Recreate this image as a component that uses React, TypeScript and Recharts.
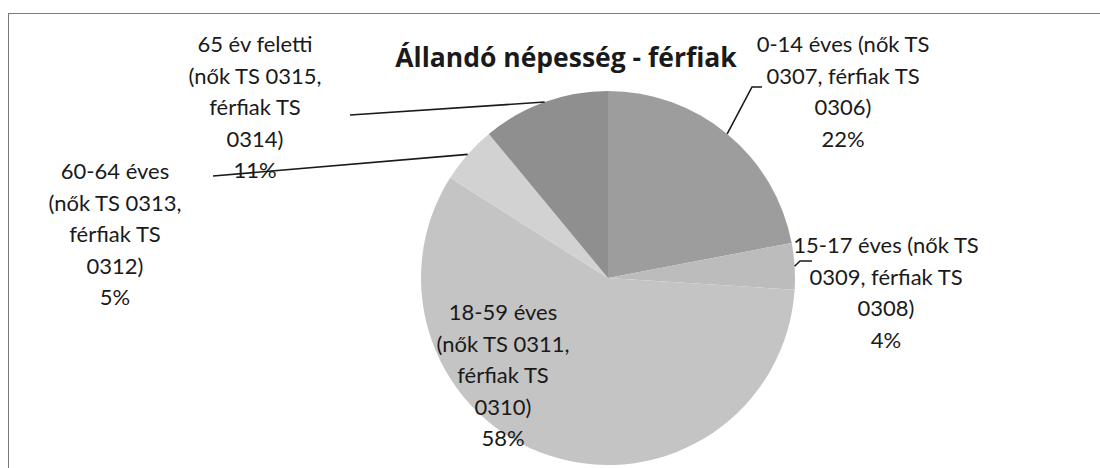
import React from 'react'
import { PieChart, Pie, Cell } from 'recharts'

const categories = [
  ['0-14 éves (nők TS', '0307, férfiak TS', '0306)'],
  ['15-17 éves (nők TS', '0309, férfiak TS', '0308)'],
  ['18-59 éves', '(nők TS 0311,', 'férfiak TS', '0310)'],
  ['60-64 éves', '(nők TS 0313,', 'férfiak TS', '0312)'],
  ['65 év feletti', '(nők TS 0315,', 'férfiak TS', '0314)'],
]
const percents = [22, 4, 58, 5, 11]

const colors = ['#9d9d9d', '#bcbcbc', '#c4c4c4', '#d2d2d2', '#8f8f8f']

// where each label block sits (centre x, first baseline y) and where its leader line ends
const labelPlace = [
  { x: 843, y: 52, lineTo: [752, 87], hook: 762 },
  { x: 886, y: 253, lineTo: [800, 261], hook: 812 },
  { x: 503, y: 320, lineTo: null, hook: 0 },
  { x: 115, y: 179, lineTo: [213, 176], hook: 213 },
  { x: 255, y: 52, lineTo: [350, 115], hook: 350 },
]

const data = categories.map((lines, i) => ({ name: lines.join(' '), lines, value: percents[i] }))

const RADIAN = Math.PI / 180
const LINE_H = 31.5

const renderLabel = (props: any) => {
  const { cx, cy, midAngle, outerRadius, index, payload } = props
  const place = labelPlace[index]
  const lines: string[] = [...payload.lines, `${percents[index]}%`]
  const sx = cx + outerRadius * Math.cos(-midAngle * RADIAN)
  const sy = cy + outerRadius * Math.sin(-midAngle * RADIAN)
  return (
    <g key={`lbl-${index}`}>
      {place.lineTo && (
        <polyline
          points={`${sx},${sy} ${place.lineTo[0]},${place.lineTo[1]} ${place.hook},${place.lineTo[1]}`}
          fill="none"
          stroke="#1a1a1a"
          strokeWidth={1.6}
        />
      )}
      <text x={place.x} y={place.y} textAnchor="middle" fill="#1a1a1a" fontSize={22} fontFamily="Lato, sans-serif">
        {lines.map((t, j) => (
          <tspan key={j} x={place.x} dy={j === 0 ? 0 : LINE_H}>
            {t}
          </tspan>
        ))}
      </text>
    </g>
  )
}

export default function App() {
  return (
    <div style={{ position: 'absolute', left: 0, top: 0, width: 1100, height: 468, background: '#fff', overflow: 'hidden' }}>
      <div
        style={{
          position: 'absolute',
          left: 8,
          top: 13,
          width: 1200,
          height: 600,
          borderLeft: '1.5px solid #7a7a7a',
          borderTop: '1.5px solid #7a7a7a',
        }}
      />
      <div
        style={{
          position: 'absolute',
          left: 0,
          top: 41,
          width: 1132,
          textAlign: 'center',
          fontFamily: '"Open Sans", sans-serif',
          fontWeight: 700,
          fontSize: 26.5,
          color: '#1a1a1a',
          lineHeight: '32px',
        }}
      >
        Állandó népesség - férfiak
      </div>
      <div style={{ position: 'absolute', left: 0, top: 0 }}>
        <PieChart width={1100} height={468}>
          <Pie
            data={data}
            dataKey="value"
            nameKey="name"
            cx={603}
            cy={273}
            outerRadius={187}
            startAngle={90}
            endAngle={-270}
            stroke="none"
            label={renderLabel}
            labelLine={false}
            isAnimationActive={false}
          >
            {data.map((d, i) => (
              <Cell key={d.name} fill={colors[i]} />
            ))}
          </Pie>
        </PieChart>
      </div>
    </div>
  )
}
